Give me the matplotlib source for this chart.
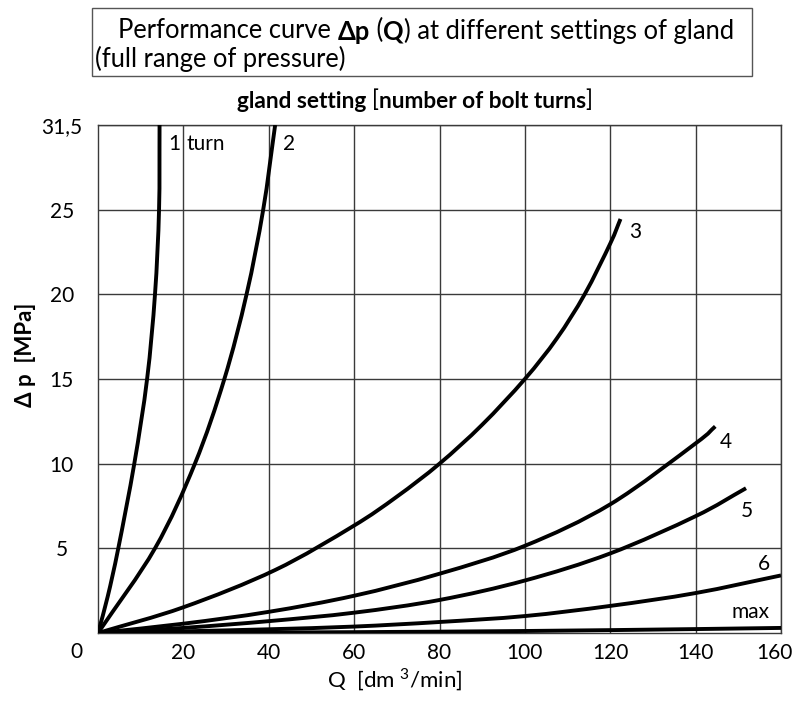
import matplotlib
matplotlib.use("Agg")
import matplotlib.pyplot as plt
import numpy as np
from matplotlib.patches import Rectangle, PathPatch
from matplotlib.path import Path
from matplotlib.transforms import ScaledTranslation

plt.rcParams['font.family'] = ['Lato', 'DejaVu Sans']
plt.rcParams['mathtext.fontset'] = 'custom'
plt.rcParams['mathtext.rm'] = 'Lato'

# Q [dm3/min] against dp in grid units (top gridline is labelled 31,5)
q1 = [0, 2.27, 4.75, 8.5, 11.5, 13.35, 14.3, 14.42]
p1 = [0, 2.15, 5, 10, 15, 20, 25, 30]
q2 = [0, 13.35, 22.7, 29.6, 34.8, 38.7, 41.5]
p2 = [0, 5, 10, 15, 20, 25, 30]
q3 = [0, 20, 41.5, 59.7, 70, 80, 90, 100, 107.5, 114.0, 120, 122.4]
p3 = [0, 1.52, 3.72, 6.3, 8.05, 10, 12.3, 15, 17.4, 20, 23.0, 24.45]
q4 = [0, 20, 40, 60, 80, 100, 120, 140, 144.6]
p4 = [0, 0.55, 1.25, 2.2, 3.5, 5.15, 7.6, 11.2, 12.2]
q5 = [0, 20, 40, 60, 80, 100, 120, 140, 151.8]
p5 = [0, 0.3, 0.7, 1.2, 1.95, 3.1, 4.7, 6.9, 8.55]
q6 = [0, 20, 40, 60, 80, 100, 120, 140, 160]
p6 = [0, 0.1, 0.22, 0.38, 0.65, 1.0, 1.6, 2.36, 3.4]
qmax = [0, 40, 80, 120, 160]
pmax = [0, 0.03, 0.08, 0.17, 0.3]

curves = [(q1, p1), (q2, p2), (q3, p3), (q4, p4), (q5, p5), (q6, p6), (qmax, pmax)]
curve_labels = ["1", "turn", "2", "3", "4", "5", "6", "max"]
label_pos = [(16.4, 28.9), (20.8, 28.9), (43.3, 28.9), (124.4, 23.7), (145.7, 11.3),
             (150.6, 7.2), (154.5, 4.07), (148.3, 1.24)]

xticks = [20, 40, 60, 80, 100, 120, 140, 160]
yticks = [5, 10, 15, 20, 25, 30]
ytick_labels = ["5", "10", "15", "20", "25", "31,5"]


def smooth_path(q, p):
    # Catmull-Rom through the read points, drawn as cubic Bezier segments
    pts = np.column_stack([q, p]).astype(float)
    n = len(pts)
    tang = np.zeros_like(pts)
    tang[0] = pts[1] - pts[0]
    tang[-1] = pts[-1] - pts[-2]
    tang[1:-1] = (pts[2:] - pts[:-2]) / 2
    verts = [pts[0]]
    codes = [Path.MOVETO]
    for i in range(n - 1):
        verts += [pts[i] + tang[i] / 3, pts[i + 1] - tang[i + 1] / 3, pts[i + 1]]
        codes += [Path.CURVE4] * 3
    return Path(verts, codes)


def chain_text(ax, x, y, pieces, size, transform):
    prev = ax.text(x, y, pieces[0][0], fontsize=size, weight=pieces[0][1],
                   transform=transform, va='center', ha='left')
    for txt, w in pieces[1:]:
        prev = ax.annotate(txt, xy=(1, 0), xycoords=prev, va='bottom', ha='left',
                           fontsize=size, weight=w, annotation_clip=False)
    return prev


fig = plt.figure(figsize=(7.96, 7.02), dpi=100)
ax = fig.add_axes([98 / 796, 69 / 702, 683 / 796, 508 / 702])

for (q, p) in curves:
    ax.add_patch(PathPatch(smooth_path(q, p), facecolor='none', edgecolor='black',
                           lw=2.8, capstyle='butt', zorder=3, clip_on=True))

for txt, (x, y) in zip(curve_labels, label_pos):
    ax.text(x, y, txt, fontsize=15, ha='left', va='center', zorder=4)

ax.set_xlim(0, 160)
ax.set_ylim(0, 30)
ax.set_xticks(xticks)
ax.set_yticks(yticks)
ax.set_yticklabels(ytick_labels)
ax.tick_params(length=0, labelsize=15)
ax.tick_params(axis='x', pad=7)
ax.tick_params(axis='y', pad=26)
for lab in ax.get_yticklabels():
    lab.set_ha('center')
last = ax.get_xticklabels()[-1]
last.set_transform(last.get_transform() + ScaledTranslation(-7 / 100, 0, fig.dpi_scale_trans))
ax.grid(True, color='#3a3a3a', lw=1.0)
for s in ax.spines.values():
    s.set_color('#3a3a3a')
    s.set_linewidth(1.0)

fig.text(76 / 796, 1 - 652 / 702, "0", fontsize=15, ha='center', va='center')
fig.text(395 / 796, 1 - 680 / 702, "Q  [dm $^{3}$/min]", fontsize=16,
         ha='center', va='center')
fig.text(26 / 796, 1 - 355 / 702, "Δ p  [MPa]", fontsize=16, weight='bold',
         rotation=90, ha='center', va='center')

# title box
fig.patches.append(Rectangle((92 / 796, 1 - 76 / 702), 660 / 796, 68 / 702,
                             transform=fig.transFigure, fill=False,
                             edgecolor='#555555', lw=1.0))
chain_text(ax, 118 / 796, 1 - 31 / 702,
           [("Performance curve ", 'normal'), ("Δp", 'bold'), (" (", 'normal'),
            ("Q", 'bold'), (") at different settings of gland", 'normal')],
           18.4, fig.transFigure)
ax.text(95 / 796, 1 - 59 / 702, "(full range of pressure)", fontsize=18.4,
        transform=fig.transFigure, va='center', ha='left')

chain_text(ax, 237 / 796, 1 - 101 / 702,
           [("gland setting ", 'bold'), ("[", 'normal'),
            ("number of bolt turns", 'bold'), ("]", 'normal')],
           16.3, fig.transFigure)

fig.savefig("out.png", dpi=100)
